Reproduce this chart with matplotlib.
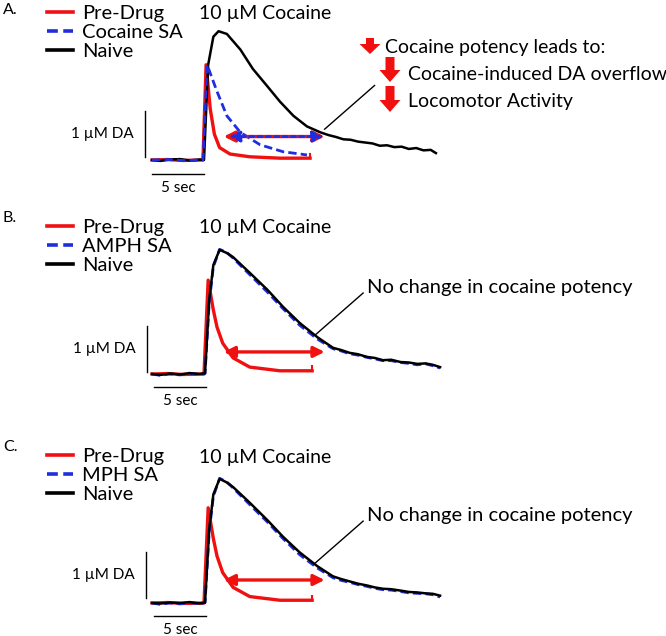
import numpy as np
import matplotlib.pyplot as plt
from matplotlib.patches import FancyArrow

plt.rcParams['font.family'] = ['Lato', 'DejaVu Sans']

# --- datos (t en s, DA en uM) ---
t_naive_a = [0, 0.8, 1.7, 2.7, 3.6, 4.6, 5.0, 5.4, 5.9, 6.4, 7.2, 8.5, 9.7, 11.1, 12.3, 13.6,
             14.9, 16.2, 17.0, 17.7, 18.4, 19.1, 19.8, 20.5, 21.2, 21.9, 22.6, 23.3, 24.0,
             24.7, 25.4, 26.1, 26.8, 27.3]
v_naive_a = [0, -0.02, 0.01, 0.02, -0.01, 0.01, 0.0, 2.07, 2.68, 2.80, 2.74, 2.40, 1.98, 1.60,
             1.27, 0.96, 0.73, 0.60, 0.54, 0.50, 0.45, 0.44, 0.40, 0.38, 0.36, 0.31, 0.32, 0.28,
             0.29, 0.24, 0.26, 0.21, 0.22, 0.15]
t_pre_a = [0, 1.5, 3.0, 4.9, 5.2, 5.6, 6.0, 6.5, 7.5, 9.4, 12.3, 15.2]
v_pre_a = [0, 0.01, -0.01, 0.0, 2.07, 1.11, 0.56, 0.27, 0.13, 0.07, 0.04, 0.04]
t_sa_a = [0, 1.5, 3.0, 4.9, 5.3, 6.25, 7.2, 8.5, 10.4, 12.6, 14.9]
v_sa_a = [0, 0.01, -0.01, 0.0, 2.07, 1.49, 0.96, 0.60, 0.33, 0.18, 0.11]

t_naive_b = [0, 0.8, 1.7, 2.7, 3.6, 4.6, 5.1, 5.5, 5.9, 6.5, 7.2, 7.8, 9.4, 11.1, 12.6, 14.2,
             15.9, 17.4, 18.2, 19.0, 19.8, 20.7, 21.4, 22.2, 23.0, 23.9, 24.7, 25.5, 26.3,
             27.0, 27.7]
v_naive_b = [0, -0.02, 0.01, -0.01, 0.02, 0.0, 0.02, 1.61, 2.37, 2.70, 2.63, 2.54, 2.20, 1.83,
             1.46, 1.11, 0.80, 0.57, 0.52, 0.46, 0.43, 0.37, 0.35, 0.30, 0.31, 0.26, 0.25,
             0.22, 0.23, 0.20, 0.15]
v_amph_b = [0, -0.03, 0.0, -0.02, 0.01, -0.01, 0.01, 1.55, 2.33, 2.71, 2.64, 2.52, 2.16, 1.78,
            1.42, 1.06, 0.76, 0.55, 0.50, 0.44, 0.41, 0.36, 0.33, 0.29, 0.29, 0.25, 0.23,
            0.20, 0.22, 0.18, 0.13]
t_pre_b = [0, 1.5, 3.0, 5.0, 5.4, 5.9, 6.25, 6.8, 7.8, 9.4, 12.3, 15.4]
v_pre_b = [0, 0.01, -0.01, 0.0, 2.04, 1.39, 1.02, 0.67, 0.35, 0.15, 0.07, 0.07]

t_naive_c = t_naive_b
v_naive_c = [0, -0.01, 0.01, 0.0, 0.02, -0.01, 0.01, 1.60, 2.36, 2.70, 2.62, 2.52, 2.18, 1.80,
             1.44, 1.10, 0.80, 0.58, 0.52, 0.47, 0.42, 0.38, 0.34, 0.31, 0.30, 0.27, 0.24,
             0.23, 0.21, 0.20, 0.16]
v_mph_c = [0, -0.03, 0.0, -0.02, 0.01, -0.02, 0.01, 1.55, 2.32, 2.71, 2.63, 2.50, 2.14, 1.76,
           1.40, 1.05, 0.76, 0.55, 0.49, 0.45, 0.40, 0.36, 0.32, 0.29, 0.28, 0.25, 0.22,
           0.21, 0.20, 0.18, 0.13]
t_pre_c = t_pre_b
v_pre_c = [0, 0.01, -0.01, 0.0, 2.07, 1.40, 1.02, 0.66, 0.34, 0.14, 0.06, 0.06]

effects = ['Cocaine potency leads to:', 'Cocaine-induced DA overflow', 'Locomotor Activity']

W, H = 666, 636
PX_S, PX_UM = 10.4, 46.0   # pixeles por segundo / por uM
X0 = 152                   # t = 0
RED, BLUE = '#f01010', '#1f2de0'


def fig_xy(x, y):
    return x / W, 1 - y / H


fig = plt.figure(figsize=(W / 100, H / 100), dpi=100)


def make_ax(top, bottom, base):
    ax = fig.add_axes([0, 1 - bottom / H, 1, (bottom - top) / H])
    ax.set_xlim(-X0 / PX_S, (W - X0) / PX_S)
    ax.set_ylim((base - bottom) / PX_UM, (base - top) / PX_UM)
    ax.axis('off')
    return ax


def draw_panel(ax, top, letter, sa_label, t_pre, v_pre, t_nv, v_nv, t_sa, v_sa, sa_under,
               bar_x, bar_y0, hbar_y, hbar_t0, arrow_v, note):
    l_sa, = ax.plot(t_sa, v_sa, color=BLUE, lw=2, ls=(0, (3, 1.5)), label=sa_label,
                    zorder=2 if sa_under else 3)
    l_nv, = ax.plot(t_nv, v_nv, color='black', lw=1.8, label='Naive', zorder=2.5)
    l_pre, = ax.plot(t_pre, v_pre, color=RED, lw=2.4, label='Pre-Drug', zorder=1.8)
    # tick al final del trazo rojo
    ax.plot([t_pre[-1], t_pre[-1]], [v_pre[-1], v_pre[-1] + 0.1], color=RED, lw=1.5)

    ax.legend(handles=[l_pre, l_sa, l_nv], loc='upper left',
              bbox_to_anchor=fig_xy(47, top + 5), bbox_transform=fig.transFigure,
              frameon=False, fontsize=14.5, labelspacing=0.1, handlelength=1.3,
              handletextpad=0.45, borderpad=0, borderaxespad=0)
    for h in ax.get_legend().legend_handles:
        h.set_linewidth(2.6)

    fig.text(*fig_xy(3, max(top + 4, 10)), letter, fontsize=11.5, va='center')
    fig.text(*fig_xy(199, top + 14), '10 \u00b5M Cocaine', fontsize=14, va='center')

    # barras de escala
    ax.plot([bar_x, bar_x], [bar_y0, bar_y0 + 1], color='black', lw=1)
    ax.plot([hbar_t0, hbar_t0 + 5], [hbar_y, hbar_y], color='black', lw=1)
    ax.text(bar_x - 1.1, bar_y0 + 0.5, '1 \u00b5M DA', fontsize=11, ha='right', va='center')
    ax.text(hbar_t0 + 2.5, hbar_y - 0.31, '5 sec', fontsize=11, ha='center', va='center')

    # flecha doble
    ax.annotate('', xy=(6.9, arrow_v), xytext=(16.6, arrow_v),
                arrowprops=dict(arrowstyle='<|-|>', color=RED, lw=2.4,
                                mutation_scale=16, shrinkA=0, shrinkB=0))
    if note:
        ax.plot([15.7, 20.3], [arrow_v + 0.37, arrow_v + 1.28], color='black', lw=1)
        ax.text(20.7, arrow_v + 1.4, note, fontsize=14.5, va='center')


# --- Panel A ---
axA = make_ax(0, 212, 160)
draw_panel(axA, 0, 'A.', 'Cocaine SA', t_pre_a, v_pre_a, t_naive_a, v_naive_a, t_sa_a, v_sa_a,
           False, -0.67, 0.07, -0.3, 0.0, 0.51, None)
axA.annotate('', xy=(7.4, 0.51), xytext=(16.5, 0.51),
             arrowprops=dict(arrowstyle='<|-|>', color=BLUE, lw=2, ls=(0, (1.5, 1.5)),
                             mutation_scale=16, shrinkA=0, shrinkB=0))
axA.plot([16.6, 21.4], [0.67, 1.62], color='black', lw=1)

# flechas rojas hacia abajo (x, y_inicio, y_fin, ancho, ancho_cabeza, largo_cabeza) en px
arrows = [(370, 38, 54, 8, 21, 10), (390, 57, 82, 9, 21, 12), (390, 86, 112, 9, 21, 12)]
for x, y0, y1, w, hw, hl in arrows:
    fig.add_artist(FancyArrow(x / 100, (H - y0) / 100, 0, -(y1 - y0) / 100, width=w / 100,
                              head_width=hw / 100, head_length=hl / 100,
                              length_includes_head=True, color=RED, lw=0,
                              transform=fig.dpi_scale_trans))
for (x, y), s in zip([(385, 47), (408, 74), (408, 101)], effects):
    fig.text(*fig_xy(x, y), s, fontsize=14, va='center')

# --- Panel B ---
axB = make_ax(212, 424, 374)
draw_panel(axB, 214, 'B.', 'AMPH SA', t_pre_b, v_pre_b, t_naive_b, v_naive_b, t_naive_b,
           v_amph_b, True, -0.48, 0.05, -0.28, 0.2, 0.48, 'No change in cocaine potency')

# --- Panel C ---
axC = make_ax(424, 636, 603)
draw_panel(axC, 443, 'C.', 'MPH SA', t_pre_c, v_pre_c, t_naive_c, v_naive_c, t_naive_c,
           v_mph_c, True, -0.58, 0.11, -0.28, 0.2, 0.5, 'No change in cocaine potency')

fig.savefig('out.png', dpi=100)
